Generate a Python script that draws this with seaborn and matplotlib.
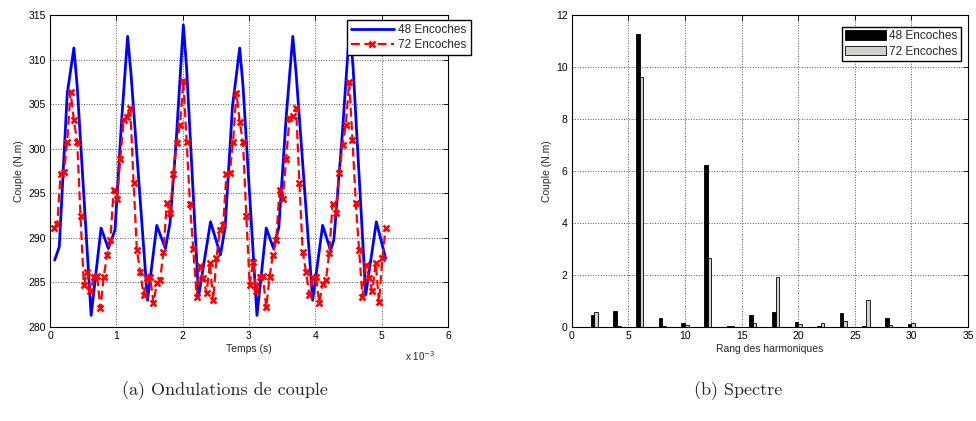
import matplotlib
matplotlib.use('Agg')
import matplotlib.pyplot as plt
import seaborn as sns
import pandas as pd

# --- Ondulations de couple (temps en ms) ---
temps_48 = [0.07, 0.14, 0.26, 0.36, 0.41, 0.62, 0.77, 0.88, 0.98, 1.08,
            1.17, 1.22, 1.47, 1.61, 1.74, 1.81, 1.90, 2.01, 2.06, 2.24,
            2.42, 2.57, 2.64, 2.75, 2.86, 2.91, 3.12, 3.26, 3.37, 3.45,
            3.56, 3.66, 3.71, 3.96, 4.11, 4.23, 4.28, 4.40, 4.52, 4.57,
            4.76, 4.92, 5.06]
couple_48 = [287.5, 289.0, 306.2, 311.3, 307.0, 281.3, 291.1, 288.8, 290.9, 303.2,
             312.6, 308.5, 283.0, 291.4, 288.8, 291.7, 300.6, 313.9, 309.0, 283.4,
             291.8, 288.1, 291.2, 304.7, 311.3, 307.0, 281.3, 291.1, 288.8, 291.2,
             303.5, 312.6, 308.5, 283.0, 291.4, 288.6, 289.8, 301.0, 313.9, 309.0,
             283.6, 291.8, 287.7]

temps_72 = [0.06, 0.11, 0.16, 0.21, 0.26, 0.31, 0.36, 0.41, 0.46, 0.51,
            0.56, 0.61, 0.66, 0.71, 0.76, 0.81, 0.86, 0.91, 0.96, 1.01,
            1.06, 1.11, 1.16, 1.21, 1.26, 1.31, 1.36, 1.41, 1.46, 1.51,
            1.56, 1.61, 1.66, 1.71, 1.76, 1.81, 1.86, 1.91, 1.96, 2.01,
            2.06, 2.11, 2.16, 2.21, 2.26, 2.31, 2.36, 2.41, 2.46, 2.51,
            2.56, 2.61, 2.66, 2.71, 2.76, 2.81, 2.86, 2.91, 2.96, 3.01,
            3.06, 3.11, 3.16, 3.21, 3.26, 3.31, 3.36, 3.41, 3.46, 3.51,
            3.56, 3.61, 3.66, 3.71, 3.76, 3.81, 3.86, 3.91, 3.96, 4.01,
            4.06, 4.11, 4.16, 4.21, 4.26, 4.31, 4.36, 4.41, 4.46, 4.51,
            4.56, 4.61, 4.66, 4.71, 4.76, 4.81, 4.86, 4.91, 4.96, 5.01,
            5.06]
couple_72 = [291.1, 291.6, 297.2, 297.4, 300.8, 306.4, 303.2, 300.8, 292.4, 284.7,
             286.2, 284.0, 285.6, 285.7, 282.1, 285.6, 288.1, 289.8, 295.4, 294.4,
             298.9, 303.2, 303.6, 304.6, 296.2, 288.6, 286.2, 283.6, 285.5, 285.6,
             282.7, 284.9, 285.3, 288.4, 293.9, 292.8, 297.2, 300.6, 302.7, 307.6,
             300.8, 293.8, 288.7, 283.4, 286.8, 285.5, 283.8, 287.2, 283.0, 287.7,
             290.9, 291.4, 297.2, 297.3, 300.8, 306.3, 303.0, 300.7, 292.4, 284.7,
             287.3, 284.0, 285.6, 285.7, 282.2, 285.6, 288.1, 289.8, 295.4, 294.4,
             298.9, 303.4, 303.7, 304.6, 296.1, 288.4, 286.2, 283.6, 285.5, 285.6,
             282.7, 284.8, 285.3, 288.3, 293.8, 292.8, 297.3, 300.4, 302.7, 307.5,
             301.0, 293.9, 288.6, 283.4, 286.9, 285.5, 284.0, 287.2, 282.8, 287.7,
             291.1]

# --- Spectre ---
rangs = [2, 4, 6, 8, 10, 12, 14, 16, 18, 20, 22, 24, 26, 28, 30]
spectre_48 = [0.46, 0.62, 11.26, 0.33, 0.17, 6.23, 0.05, 0.46, 0.59, 0.20, 0.05, 0.53, 0.04, 0.33, 0.10]
spectre_72 = [0.56, 0.05, 9.60, 0.02, 0.08, 2.64, 0.04, 0.14, 1.93, 0.12, 0.15, 0.23, 1.04, 0.08, 0.15]

sns.set_style('white')
plt.rcParams['font.family'] = ['Liberation Sans', 'DejaVu Sans']
plt.rcParams['font.size'] = 7.5

fig = plt.figure(figsize=(9.76, 4.21), dpi=100)
ax1 = fig.add_axes([50 / 976, 94 / 421, 398 / 976, 312 / 421])
ax2 = fig.add_axes([571.7 / 976, 94 / 421, 396.3 / 976, 312 / 421])

# Ondulations
sns.lineplot(x=temps_48, y=couple_48, ax=ax1, color='#0000ff', linewidth=2.0,
             estimator=None, label='48 Encoches')
sns.lineplot(x=temps_72, y=couple_72, ax=ax1, color='#ff0000', linewidth=1.6,
             linestyle=(0, (4, 2)), marker='x', markersize=4.5, markeredgewidth=1.8,
             markeredgecolor='#ff0000', markerfacecolor='#ff0000',
             estimator=None, label='72 Encoches')
ax1.set_xlim(0, 6)
ax1.set_ylim(280, 315)
ax1.set_xticks(range(0, 7))
ax1.set_yticks(range(280, 316, 5))
ax1.set_xlabel('Temps (s)', labelpad=2)
ax1.set_ylabel('Couple (N.m)', labelpad=3)
ax1.text(0.93, -0.07, r'x 10$^{-3}$', transform=ax1.transAxes, ha='center', va='top', fontsize=7)
ax1.legend(loc='upper right', bbox_to_anchor=(1.072, 1.004), fancybox=False,
           edgecolor='black', framealpha=1, handlelength=3.6, handletextpad=0.4,
           borderpad=0.35, labelspacing=0.3, fontsize=8.5)

# Spectre
df = pd.DataFrame({
    'rang': rangs * 2,
    'couple': spectre_48 + spectre_72,
    'config': ['48 Encoches'] * len(rangs) + ['72 Encoches'] * len(rangs),
})
sns.barplot(data=df, x='rang', y='couple', hue='config', native_scale=True,
            width=0.32, palette=['black', '#d4d0c8'], edgecolor='black',
            linewidth=0.6, errorbar=None, ax=ax2)
ax2.set_xlim(0, 35)
ax2.set_ylim(0, 12)
ax2.set_xticks(range(0, 36, 5))
ax2.set_yticks(range(0, 13, 2))
ax2.set_xlabel('Rang des harmoniques', labelpad=2)
ax2.set_ylabel('Couple (N.m)', labelpad=3)
ax2.legend(loc='upper right', bbox_to_anchor=(0.997, 0.982), fancybox=False,
           edgecolor='black', framealpha=1, handlelength=3.4, handleheight=0.9,
           handletextpad=0.3, borderpad=0.3, labelspacing=0.3, fontsize=8.5)

for ax in (ax1, ax2):
    ax.grid(True, linestyle=':', linewidth=0.7, color='#555555')
    ax.tick_params(direction='in', length=3.5, width=0.6, top=True, right=True,
                   labelsize=7.5, pad=3, colors='black')
    for s in ax.spines.values():
        s.set_visible(True)
        s.set_color('black')
        s.set_linewidth(0.8)

fig.text(225 / 976, 1 - 391 / 421, '(a) Ondulations de couple', ha='center', va='center',
         fontsize=13, family='cmr10')
fig.text(738 / 976, 1 - 391 / 421, '(b) Spectre', ha='center', va='center',
         fontsize=13, family='cmr10')

fig.savefig('out.png', dpi=100)
